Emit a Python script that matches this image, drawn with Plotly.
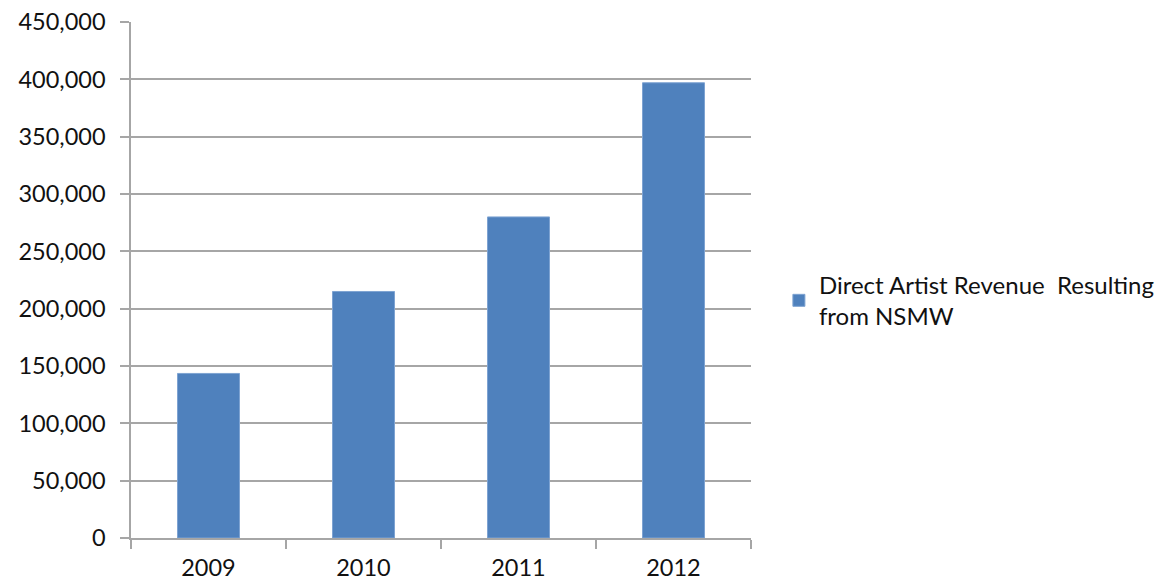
import plotly.graph_objects as go

# Direct artist revenue by year
years = ["2009", "2010", "2011", "2012"]
revenue = [143500, 215000, 280000, 397000]
series_name = "Direct Artist Revenue  Resulting<br>from NSMW"

y_ticks = [0, 50000, 100000, 150000, 200000, 250000, 300000, 350000, 400000, 450000]
y_tick_labels = ["0", "50,000", "100,000", "150,000", "200,000", "250,000",
                 "300,000", "350,000", "400,000", "450,000"]

FONT = "Lato, 'Open Sans', sans-serif"
GRID = "#a6a6a6"
TEXT = "#111111"

fig = go.Figure(
    go.Bar(
        x=years,
        y=revenue,
        name=series_name,
        marker=dict(color="#4f81bd", line=dict(color="#7ea3d2", width=1)),
        width=0.4,
        showlegend=True,
    )
)

fig.update_layout(
    width=1167,
    height=583,
    margin=dict(l=131, r=416, t=22, b=45, autoexpand=False),
    paper_bgcolor="white",
    plot_bgcolor="white",
    font=dict(family=FONT, size=23.5, color=TEXT),
    bargap=0.6,
    legend=dict(
        x=1.045,
        xanchor="left",
        y=0.46,
        yanchor="middle",
        font=dict(family=FONT, size=24, color=TEXT),
        itemwidth=30,
        tracegroupgap=0,
    ),
    xaxis=dict(
        type="category",
        automargin=False,
        showline=True,
        linecolor=GRID,
        linewidth=1.5,
        ticks="outside",
        tickson="boundaries",
        ticklen=9,
        tickcolor=GRID,
        tickwidth=1.5,
        ticklabelstandoff=8,
        showgrid=False,
        tickfont=dict(family=FONT, size=23.5, color=TEXT),
    ),
    yaxis=dict(
        range=[0, 450000],
        automargin=False,
        tickvals=y_ticks,
        ticktext=y_tick_labels,
        showline=True,
        linecolor=GRID,
        linewidth=1.5,
        ticks="outside",
        ticklen=9,
        tickcolor=GRID,
        tickwidth=1.5,
        ticklabelstandoff=10,
        showgrid=True,
        gridcolor=GRID,
        gridwidth=1.5,
        zeroline=False,
        tickfont=dict(family=FONT, size=23.5, color=TEXT),
    ),
)

fig.write_html("out.html")
